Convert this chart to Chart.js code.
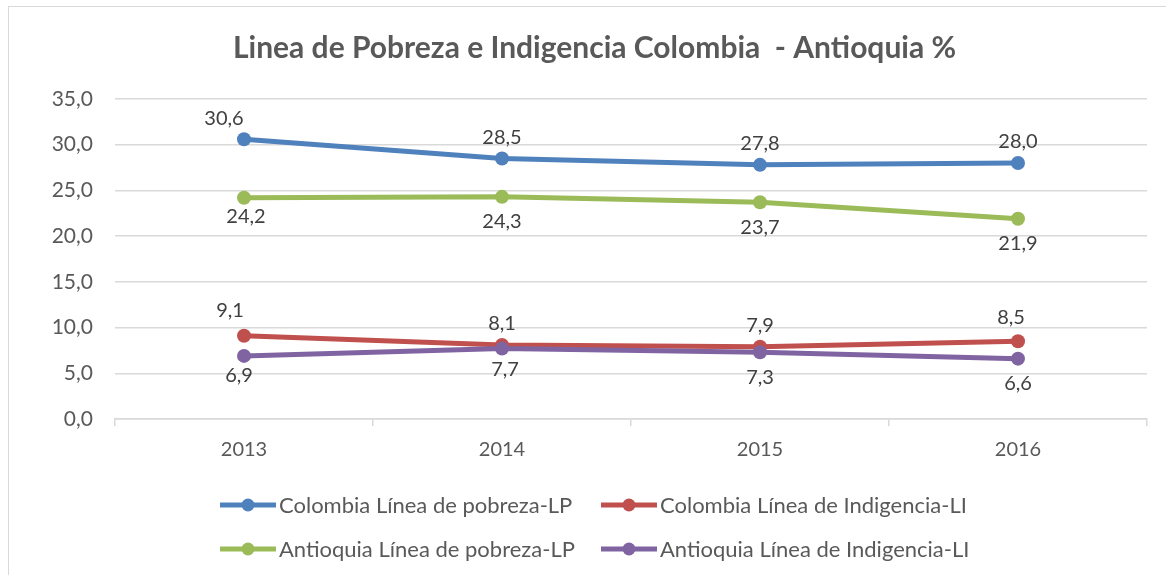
<!DOCTYPE html>
<html>
<head>
<meta charset="utf-8">
<script src="https://cdn.jsdelivr.net/npm/chart.js@4"></script>
<style>
  html, body { margin: 0; padding: 0; background: #fff; overflow: hidden; }
  #wrap { position: relative; width: 1190px; height: 575px; }
  #frame { position: absolute; left: 8px; top: 6px; width: 1200px; height: 600px; border: 1px solid #d9d9d9; box-sizing: border-box; }
  canvas { position: absolute; left: 0; top: 0; }
</style>
</head>
<body>
<div id="wrap">
  <div id="frame"></div>
  <canvas id="chart" width="1190" height="575"></canvas>
</div>
<script>
const years = ['2013', '2014', '2015', '2016'];
const colombiaLP = [30.6, 28.5, 27.8, 28.0];
const colombiaLI = [9.1, 8.1, 7.9, 8.5];
const antioquiaLP = [24.2, 24.3, 23.7, 21.9];
const antioquiaLI = [6.9, 7.7, 7.3, 6.6];
const yTicks = [0, 5, 10, 15, 20, 25, 30, 35];

const fmt = v => v.toFixed(1).replace('.', ',');
const FONT = 'Lato, "Liberation Sans", sans-serif';

function series(label, data, color, order, labelPos) {
    return {
        label: label,
        data: data,
        borderColor: color,
        backgroundColor: color,
        borderWidth: 5,
        pointRadius: 7,
        pointHoverRadius: 7,
        pointBorderWidth: 0,
        tension: 0,
        order: order,
        labelPos: labelPos
    };
}

// pequeños ajustes de etiquetas como en el original (dataset, punto) -> [dx, dy]
const nudge = { '0-0': [-20, 0], '1-0': [-14, -4], '3-0': [-5, -5], '3-1': [3, -4], '2-0': [2, -6], '1-3': [-7, -3] };

// etiquetas de valores sobre / debajo de los puntos
const valueLabels = {
    id: 'valueLabels',
    afterDatasetsDraw(chart) {
        const ctx = chart.ctx;
        ctx.save();
        ctx.font = '20px ' + FONT;
        ctx.fillStyle = '#404040';
        ctx.textAlign = 'center';
        ctx.textBaseline = 'middle';
        chart.data.datasets.forEach((ds, i) => {
            const meta = chart.getDatasetMeta(i);
            meta.data.forEach((pt, j) => {
                const dy = ds.labelPos === 'above' ? -21 : 25;
                const n = nudge[i + '-' + j] || [0, 0];
                ctx.fillText(fmt(ds.data[j]), pt.x + n[0], pt.y + dy + n[1]);
            });
        });
        ctx.restore();
    }
};

// leyenda en dos columnas como en Excel
const twoColLegend = {
    id: 'twoColLegend',
    afterDraw(chart) {
        const ctx = chart.ctx;
        const lineX = [220, 601];
        const rowY = [505, 549];
        ctx.save();
        ctx.font = '22px ' + FONT;
        ctx.textBaseline = 'middle';
        ctx.textAlign = 'left';
        chart.data.datasets.forEach((ds, i) => {
            const x = lineX[i % 2];
            const y = rowY[Math.floor(i / 2)];
            ctx.strokeStyle = ds.borderColor;
            ctx.lineWidth = 5;
            ctx.beginPath();
            ctx.moveTo(x, y);
            ctx.lineTo(x + 56, y);
            ctx.stroke();
            ctx.fillStyle = ds.borderColor;
            ctx.beginPath();
            ctx.arc(x + 28, y, 6.5, 0, Math.PI * 2);
            ctx.fill();
            ctx.fillStyle = '#595959';
            ctx.fillText(ds.label, x + 59, y + 1);
        });
        ctx.restore();
    }
};

const ctx = document.getElementById('chart').getContext('2d');
new Chart(ctx, {
    type: 'line',
    data: {
        labels: years,
        datasets: [
            series('Colombia Línea de pobreza-LP', colombiaLP, '#4F81BD', 4, 'above'),
            series('Colombia Línea de Indigencia-LI', colombiaLI, '#C0504D', 3, 'above'),
            series('Antioquia Línea de pobreza-LP', antioquiaLP, '#9BBB59', 2, 'below'),
            series('Antioquia Línea de Indigencia-LI', antioquiaLI, '#8064A2', 1, 'below')
        ]
    },
    options: {
        responsive: false,
        animation: false,
        layout: { padding: { left: 42, right: 43, top: 0, bottom: 106 } },
        plugins: {
            legend: { display: false },
            tooltip: { enabled: false },
            title: {
                display: true,
                text: 'Linea de Pobreza e Indigencia Colombia  - Antioquia %',
                color: '#595959',
                font: { family: FONT, size: 30, weight: 'bold', lineHeight: 1.2 },
                padding: { top: 30, bottom: 33 }
            }
        },
        scales: {
            x: {
                offset: true,
                grid: { offset: true, drawOnChartArea: false, drawTicks: true, tickLength: 7, color: '#d9d9d9', lineWidth: 1.5 },
                border: { display: true, color: '#d9d9d9', width: 1.5 },
                ticks: { color: '#595959', padding: 12, font: { family: FONT, size: 20 } },
                afterFit(scale) { scale.height = 50; }
            },
            y: {
                min: 0,
                max: 35,
                afterBuildTicks(scale) { scale.ticks = yTicks.map(v => ({ value: v })); },
                grid: { color: '#d9d9d9', lineWidth: 1.5, drawTicks: false },
                border: { display: false },
                ticks: { color: '#595959', padding: 22, font: { family: FONT, size: 21 }, callback: v => fmt(v) },
                afterFit(scale) { scale.width = 73; }
            }
        }
    },
    plugins: [valueLabels, twoColLegend]
});
</script>
</body>
</html>
